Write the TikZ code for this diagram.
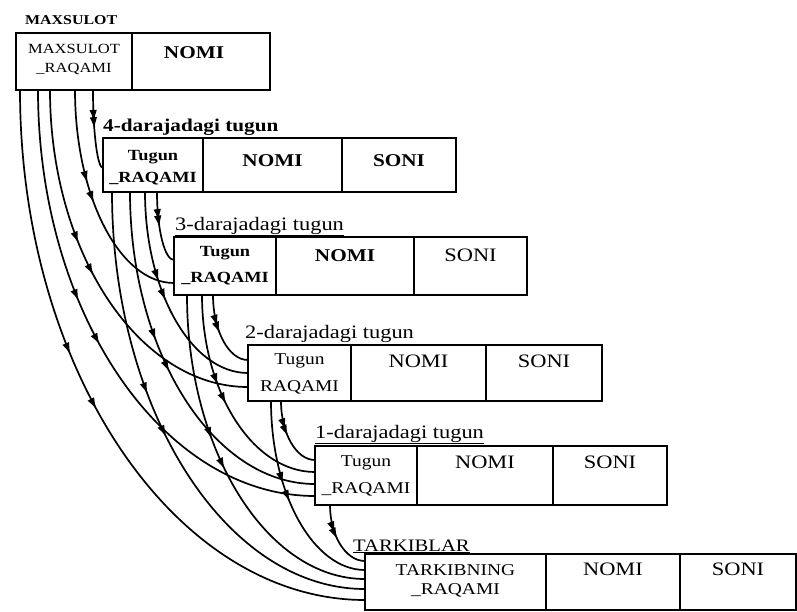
\documentclass[tikz,border=0pt]{standalone}
\usepackage{fontspec}
\setmainfont{Liberation Serif}[FakeStretch=1.18]
\usetikzlibrary{calc,arrows.meta,decorations.markings}

% one table cell: name, left, top, width, height
\newcommand\cellbox[5]{\node[cell, minimum width=#4pt, minimum height=#5pt] (#1) at (#2,#3) {};}
% a link curve bending from a vertical start into a horizontal end
\newcommand\lnk[2]{\draw[link] (#1) .. controls ($(#1)!0.55!(#1 |- #2)$) and ($(#2)!0.55!(#1 |- #2)$) .. (#2);}

\tikzset{linktip/.tip={Latex[length=12pt,width=7.5pt]}}

\begin{document}
\begin{tikzpicture}[x=1pt,y=-1pt,
  cell/.style={draw, line width=1.8pt, rectangle, inner sep=0pt, outer sep=0pt, anchor=north west},
  big/.style={anchor=base, inner sep=0pt, font=\fontsize{19}{21}\selectfont},
  bigb/.style={anchor=base, inner sep=0pt, font=\fontsize{18}{20}\selectfont\bfseries},
  small/.style={anchor=base, inner sep=0pt, font=\fontsize{16.5}{18}\selectfont},
  smallb/.style={anchor=base, inner sep=0pt, font=\fontsize{15.5}{18}\selectfont\bfseries},
  lbl/.style={anchor=base west, inner sep=0pt, font=\fontsize{19}{21}\selectfont},
  link/.style={line width=1.7pt, postaction={decorate},
    decoration={markings,
      mark=at position 0.40 with {\arrow{linktip}},
      mark=at position 0.49 with {\arrow{linktip}}}}]

\fill[white] (0,0) rectangle (797,611);
\useasboundingbox (0,0) rectangle (797,611);

% ---- MAXSULOT
\node[anchor=base west, inner sep=0pt, font=\fontsize{13.5}{15}\selectfont\bfseries] (LM) at (25,24) {MAXSULOT};
\cellbox{M1}{16}{33}{116}{57}
\cellbox{M2}{132}{33}{138}{57}
\node[anchor=base, inner sep=0pt, font=\fontsize{14}{16}\selectfont] (M1a) at ($(M1.north)+(0,20)$) {MAXSULOT};
\node[anchor=base, inner sep=0pt, font=\fontsize{14}{16}\selectfont] (M1b) at ($(M1.north)+(0,39)$) {\_RAQAMI};
\node[bigb] (M2a) at ($(M2.north)+(-7,25)$) {NOMI};

% ---- 4th level node
\node[lbl, font=\fontsize{18}{20}\selectfont\bfseries] (L4) at (103,131) {4-darajadagi tugun};
\cellbox{A1}{103}{138}{100}{54}
\cellbox{A2}{203}{138}{139}{54}
\cellbox{A3}{342}{138}{114}{54}
\node[smallb] (A1a) at ($(A1.north)+(0,22)$) {Tugun};
\node[smallb] (A1b) at ($(A1.north)+(0,44)$) {\_RAQAMI};
\node[bigb] (A2a) at ($(A2.north)+(0,28)$) {NOMI};
\node[bigb] (A3a) at ($(A3.north)+(0,28)$) {SONI};

% ---- 3rd level node
\node[lbl] (L3) at (175,230) {\underline{3-darajadagi tugun}};
\cellbox{B1}{174}{237}{102}{58}
\cellbox{B2}{276}{237}{138}{58}
\cellbox{B3}{414}{237}{113}{58}
\node[smallb] (B1a) at ($(B1.north)+(0,19)$) {Tugun};
\node[smallb] (B1b) at ($(B1.north)+(0,45)$) {\_RAQAMI};
\node[bigb] (B2a) at ($(B2.north)+(0,24)$) {NOMI};
\node[big] (B3a) at ($(B3.north)+(0,24)$) {SONI};

% ---- 2nd level node
\node[lbl] (L2) at (245,338) {2-darajadagi tugun};
\cellbox{C1}{248}{345}{103}{56}
\cellbox{C2}{351}{345}{135}{56}
\cellbox{C3}{486}{345}{116}{56}
\node[small] (C1a) at ($(C1.north)+(0,19)$) {Tugun};
\node[small] (C1b) at ($(C1.north)+(0,46)$) {RAQAMI};
\node[big] (C2a) at ($(C2.north)+(0,22)$) {NOMI};
\node[big] (C3a) at ($(C3.north)+(0,22)$) {SONI};

% ---- 1st level node
\node[lbl] (L1) at (315,438) {\underline{1-darajadagi tugun}};
\cellbox{D1}{315}{446}{102}{59}
\cellbox{D2}{417}{446}{136}{59}
\cellbox{D3}{553}{446}{114}{59}
\node[small] (D1a) at ($(D1.north)+(0,20)$) {Tugun};
\node[small] (D1b) at ($(D1.north)+(0,47)$) {\_RAQAMI};
\node[big] (D2a) at ($(D2.north)+(0,22)$) {NOMI};
\node[big] (D3a) at ($(D3.north)+(0,22)$) {SONI};

% ---- components
\node[lbl, font=\fontsize{17.5}{20}\selectfont] (LK) at (353,551) {\underline{TARKIBLAR}};
\cellbox{K1}{365}{554}{181}{56}
\cellbox{K2}{546}{554}{134}{56}
\cellbox{K3}{680}{554}{116}{56}
\node[small] (K1a) at ($(K1.north)+(0,21)$) {TARKIBNING};
\node[small] (K1b) at ($(K1.north)+(0,40)$) {\_RAQAMI};
\node[big] (K2a) at ($(K2.north)+(0,21)$) {NOMI};
\node[big] (K3a) at ($(K3.north)+(0,21)$) {SONI};

% ---- link end points
\coordinate (sMK) at ($(M1.south west)+(4,0)$);
\coordinate (sMD) at ($(M1.south west)+(22,0)$);
\coordinate (sMC) at ($(M1.south west)+(34,0)$);
\coordinate (sMB) at ($(M1.south west)+(59,0)$);
\coordinate (sMA) at ($(M1.south west)+(77,0)$);
\coordinate (sAK) at ($(A1.south west)+(9,0)$);
\coordinate (sAD) at ($(A1.south west)+(27,0)$);
\coordinate (sAC) at ($(A1.south west)+(42,0)$);
\coordinate (sAB) at ($(A1.south west)+(54,0)$);
\coordinate (sBK) at ($(B1.south west)+(13,0)$);
\coordinate (sBD) at ($(B1.south west)+(28,0)$);
\coordinate (sBC) at ($(B1.south west)+(39,0)$);
\coordinate (sCK) at ($(C1.south west)+(23,0)$);
\coordinate (sCD) at ($(C1.south west)+(33,0)$);
\coordinate (sDK) at ($(D1.south west)+(15,0)$);

\coordinate (tMA) at ($(A1.north west)+(0,30)$);
\coordinate (tAB) at ($(B1.north west)+(0,23)$);
\coordinate (tMB) at ($(B1.north west)+(0,46)$);
\coordinate (tBC) at ($(C1.north west)+(0,15)$);
\coordinate (tAC) at ($(C1.north west)+(0,28)$);
\coordinate (tMC) at ($(C1.north west)+(0,42)$);
\coordinate (tCD) at ($(D1.north west)+(0,14)$);
\coordinate (tBD) at ($(D1.north west)+(0,26)$);
\coordinate (tAD) at ($(D1.north west)+(0,38)$);
\coordinate (tMD) at ($(D1.north west)+(0,50)$);
\coordinate (tDK) at ($(K1.north west)+(0,7)$);
\coordinate (tCK) at ($(K1.north west)+(0,16)$);
\coordinate (tBK) at ($(K1.north west)+(0,25)$);
\coordinate (tAK) at ($(K1.north west)+(0,35)$);
\coordinate (tMK) at ($(K1.north west)+(0,46)$);

% ---- links
\lnk{sMA}{tMA}
\lnk{sMB}{tMB}
\lnk{sMC}{tMC}
\lnk{sMD}{tMD}
\lnk{sMK}{tMK}
\lnk{sAB}{tAB}
\lnk{sAC}{tAC}
\lnk{sAD}{tAD}
\lnk{sAK}{tAK}
\lnk{sBC}{tBC}
\lnk{sBD}{tBD}
\lnk{sBK}{tBK}
\lnk{sCD}{tCD}
\lnk{sCK}{tCK}
\lnk{sDK}{tDK}

\end{tikzpicture}
\end{document}
